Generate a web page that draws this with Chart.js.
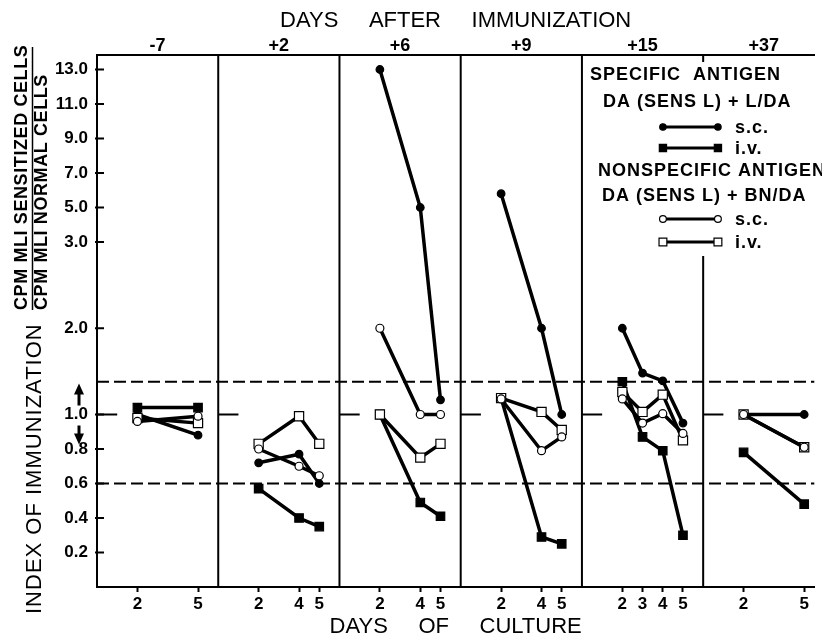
<!DOCTYPE html>
<html>
<head>
<meta charset="utf-8">
<title>Index of immunization</title>
<script src="https://cdn.jsdelivr.net/npm/chart.js@4.4.1/dist/chart.umd.min.js"></script>
<style>
  html, body { margin: 0; padding: 0; background: #fff; overflow: hidden; }
  canvas { display: block; }
</style>
</head>
<body>
<canvas id="chart" width="822" height="638"></canvas>
<script>
// Days after immunization (one panel each) and days of culture inside each panel
const panelLabels = ['-7', '+2', '+6', '+9', '+15', '+37'];
const cultureDays = [[2, 5], [2, 4, 5], [2, 4, 5], [2, 4, 5], [2, 3, 4, 5], [2, 5]];

// Index of immunization (one row per panel)
const specificSC = [[1.0, 0.88], [0.72, 0.77, 0.60], [13.0, 5.0, 1.17], [5.8, 2.0, 1.0], [2.0, 1.48, 1.39, 0.95], [1.0, 1.0]];
const specificIV = [[1.08, 1.08], [0.57, 0.40, 0.35], [1.0, 0.49, 0.41], [1.19, 0.29, 0.25], [1.38, 0.87, 0.79, 0.30], [0.78, 0.48]];
const nonspecificSC = [[0.96, 0.99], [0.80, 0.70, 0.645], [2.0, 1.0, 1.0], [1.18, 0.79, 0.87], [1.18, 0.95, 1.01, 0.89], [1.0, 0.81]];
const nonspecificIV = [[0.98, 0.95], [0.83, 0.99, 0.83], [1.0, 0.75, 0.83], [1.19, 1.03, 0.91], [1.26, 1.03, 1.23, 0.85], [1.0, 0.81]];

const yTickLabels = [0.2, 0.4, 0.6, 0.8, 1.0, 2.0, 3.0, 5.0, 7.0, 9.0, 11.0, 13.0];
const dashedLevels = [1.38, 0.6];

const PANEL = 6; // x units per panel

// broken y axis: 0-1 linear, 1-3 compressed x2, 3-13 compressed x10
function toAxis(v) {
    if (v <= 1) return v;
    if (v <= 3) return 1 + (v - 1) / 2;
    return 2 + (v - 3) / 10;
}

const seriesDefs = [
    { values: nonspecificSC, pointStyle: 'circle', radius: 4, fill: '#fff', order: 0 },
    { values: nonspecificIV, pointStyle: 'rect', radius: 6.5, fill: '#fff', order: 0 },
    { values: specificSC, pointStyle: 'circle', radius: 3.8, fill: '#000', order: 1 },
    { values: specificIV, pointStyle: 'rect', radius: 6, fill: '#000', order: 1 }
];

const datasets = [];
seriesDefs.forEach(s => {
    s.values.forEach((row, p) => {
        datasets.push({
            data: row.map((v, k) => ({ x: p * PANEL + cultureDays[p][k], y: toAxis(v) })),
            showLine: true,
            borderColor: '#000',
            borderWidth: 3.5,
            pointStyle: s.pointStyle,
            pointRadius: s.radius,
            pointBackgroundColor: s.fill,
            pointBorderColor: '#000',
            pointBorderWidth: 1.2,
            order: s.order
        });
    });
});

const dayTicks = [];
cultureDays.forEach((days, p) => days.forEach(d => dayTicks.push(p * PANEL + d)));

function drawMarker(ctx, s, x, y) {
    ctx.save();
    ctx.fillStyle = s.fill;
    ctx.strokeStyle = '#000';
    ctx.lineWidth = 1.2;
    Chart.helpers.drawPoint(ctx, { pointStyle: s.pointStyle, radius: s.radius * 0.85, rotation: 0, borderWidth: 1.2 }, x, y);
    ctx.restore();
}

const figureExtras = {
    id: 'figureExtras',
    beforeDatasetsDraw(chart) {
        const { ctx, chartArea: a, scales } = chart;
        const xs = scales.x, ys = scales.y;
        ctx.save();
        ctx.strokeStyle = '#000';

        // dashed limits
        ctx.lineWidth = 2;
        ctx.setLineDash([12, 5]);
        dashedLevels.forEach(v => {
            const y = ys.getPixelForValue(toAxis(v));
            ctx.beginPath();
            ctx.moveTo(a.left, y);
            ctx.lineTo(a.right, y);
            ctx.stroke();
        });
        ctx.setLineDash([]);

        // short 1.0 reference stub in each panel
        const y1 = ys.getPixelForValue(1);
        panelLabels.forEach((_, p) => {
            ctx.beginPath();
            ctx.moveTo(xs.getPixelForValue(p * PANEL), y1);
            ctx.lineTo(xs.getPixelForValue(p * PANEL + 1), y1);
            ctx.stroke();
        });

        // panel dividers (the last one is broken by the legend)
        for (let p = 1; p < panelLabels.length; p++) {
            const x = xs.getPixelForValue(p * PANEL);
            ctx.beginPath();
            if (p === 5) {
                ctx.moveTo(x, a.top);
                ctx.lineTo(x, a.top + 7);
                ctx.moveTo(x, a.top + 201);
            } else {
                ctx.moveTo(x, a.top);
            }
            ctx.lineTo(x, a.bottom);
            ctx.stroke();
        }

        // y tick marks pointing inward
        ys.ticks.forEach(t => {
            const y = ys.getPixelForValue(t.value);
            ctx.beginPath();
            ctx.moveTo(a.left - 2, y);
            ctx.lineTo(a.left + 7, y);
            ctx.stroke();
        });
        ctx.restore();
    },
    afterDraw(chart) {
        const { ctx, scales } = chart;
        const xs = scales.x, ys = scales.y;
        ctx.save();
        ctx.fillStyle = '#000';
        ctx.strokeStyle = '#000';

        // y axis titles
        ctx.save();
        ctx.translate(35, 614);
        ctx.rotate(-Math.PI / 2);
        ctx.font = '22px "Liberation Sans"';
        ctx.letterSpacing = '1px';
        ctx.textBaseline = 'middle';
        ctx.textAlign = 'left';
        ctx.fillText('INDEX OF IMMUNIZATION', 0, 0);
        ctx.restore();

        ctx.save();
        ctx.translate(0, 310);
        ctx.rotate(-Math.PI / 2);
        ctx.font = 'bold 18px "Liberation Sans"';
        ctx.letterSpacing = '0.6px';
        ctx.textBaseline = 'middle';
        ctx.textAlign = 'left';
        ctx.fillText('CPM MLI SENSITIZED CELLS', 0, 22);
        ctx.fillText('CPM MLI NORMAL CELLS', 0, 42);
        ctx.lineWidth = 1.5;
        ctx.beginPath();
        ctx.moveTo(0, 32.5);
        ctx.lineTo(263, 32.5);
        ctx.stroke();
        ctx.restore();

        // arrows around 1.0
        const y1 = ys.getPixelForValue(1);
        const ax = 79;
        ctx.lineWidth = 3;
        ctx.beginPath();
        ctx.moveTo(ax, y1 - 9); ctx.lineTo(ax, y1 - 22);
        ctx.moveTo(ax, y1 + 11); ctx.lineTo(ax, y1 + 22);
        ctx.stroke();
        ctx.beginPath();
        ctx.moveTo(ax, y1 - 31); ctx.lineTo(ax - 5, y1 - 20); ctx.lineTo(ax + 5, y1 - 20); ctx.closePath();
        ctx.moveTo(ax, y1 + 30); ctx.lineTo(ax - 5, y1 + 19); ctx.lineTo(ax + 5, y1 + 19); ctx.closePath();
        ctx.fill();

        // legend
        const lx = xs.getPixelForValue(4 * PANEL);
        ctx.font = 'bold 18px "Liberation Sans"';
        ctx.letterSpacing = '1px';
        ctx.textBaseline = 'middle';
        ctx.textAlign = 'left';
        ctx.fillText('SPECIFIC  ANTIGEN', lx + 8, 75);
        ctx.fillText('DA (SENS L) + L/DA', lx + 21, 102);
        ctx.fillText('NONSPECIFIC ANTIGEN', lx + 16, 171);
        ctx.fillText('DA (SENS L) + BN/DA', lx + 20, 196);
        const rows = [
            { s: seriesDefs[2], y: 127, label: 's.c.' },
            { s: seriesDefs[3], y: 148, label: 'i.v.' },
            { s: seriesDefs[0], y: 219, label: 's.c.' },
            { s: seriesDefs[1], y: 242, label: 'i.v.' }
        ];
        rows.forEach(r => {
            const x1 = lx + 81, x2 = lx + 136;
            ctx.lineWidth = 3;
            ctx.beginPath();
            ctx.moveTo(x1, r.y);
            ctx.lineTo(x2, r.y);
            ctx.stroke();
            drawMarker(ctx, r.s, x1, r.y);
            drawMarker(ctx, r.s, x2, r.y);
            ctx.fillStyle = '#000';
            ctx.fillText(r.label, lx + 153, r.y + 1);
        });
        ctx.restore();
    }
};

Chart.defaults.font.family = '"Liberation Sans", Arial, sans-serif';
Chart.defaults.color = '#000';

new Chart(document.getElementById('chart'), {
    type: 'scatter',
    data: { datasets: datasets },
    options: {
        responsive: false,
        animation: false,
        layout: { padding: 0 },
        plugins: { legend: { display: false }, tooltip: { enabled: false } },
        scales: {
            x: {
                type: 'linear',
                position: 'bottom',
                min: 0,
                max: 35.5,
                afterBuildTicks: scale => { scale.ticks = dayTicks.map(v => ({ value: v })); },
                afterFit: scale => { scale.height = 51; },
                ticks: {
                    autoSkip: false,
                    maxRotation: 0,
                    padding: 2,
                    font: { size: 17, weight: 'bold' },
                    callback: v => String(Math.round(v - Math.floor((v + 0.01) / PANEL) * PANEL))
                },
                grid: { drawOnChartArea: false, drawTicks: true, tickLength: 5, tickWidth: 2, tickColor: '#000' },
                border: { display: true, color: '#000', width: 2 },
                title: { display: true, text: 'DAYS     OF     CULTURE', font: { size: 22, lineHeight: 1 }, padding: 0 }
            },
            x2: {
                type: 'linear',
                position: 'top',
                min: 0,
                max: 35.5,
                afterBuildTicks: scale => { scale.ticks = panelLabels.map((_, p) => ({ value: p * PANEL + PANEL / 2 })); },
                afterFit: scale => { scale.height = 55; },
                ticks: {
                    autoSkip: false,
                    maxRotation: 0,
                    padding: -2,
                    font: { size: 18, weight: 'bold' },
                    callback: (v, i) => panelLabels[i]
                },
                grid: { display: false, drawTicks: false },
                border: { display: true, color: '#000', width: 2 },
                title: { display: true, text: 'DAYS     AFTER     IMMUNIZATION', font: { size: 22, lineHeight: 1 }, padding: { top: 10, bottom: 0 } }
            },
            y: {
                type: 'linear',
                min: 0,
                max: 3.084,
                afterBuildTicks: scale => { scale.ticks = yTickLabels.map(v => ({ value: toAxis(v) })); },
                afterFit: scale => { scale.width = 97; },
                ticks: {
                    autoSkip: false,
                    padding: 9,
                    font: { size: 17, weight: 'bold' },
                    callback: (v, i) => yTickLabels[i].toFixed(1)
                },
                grid: { display: false, drawTicks: false },
                border: { display: true, color: '#000', width: 2 }
            }
        }
    },
    plugins: [figureExtras]
});
</script>
</body>
</html>
